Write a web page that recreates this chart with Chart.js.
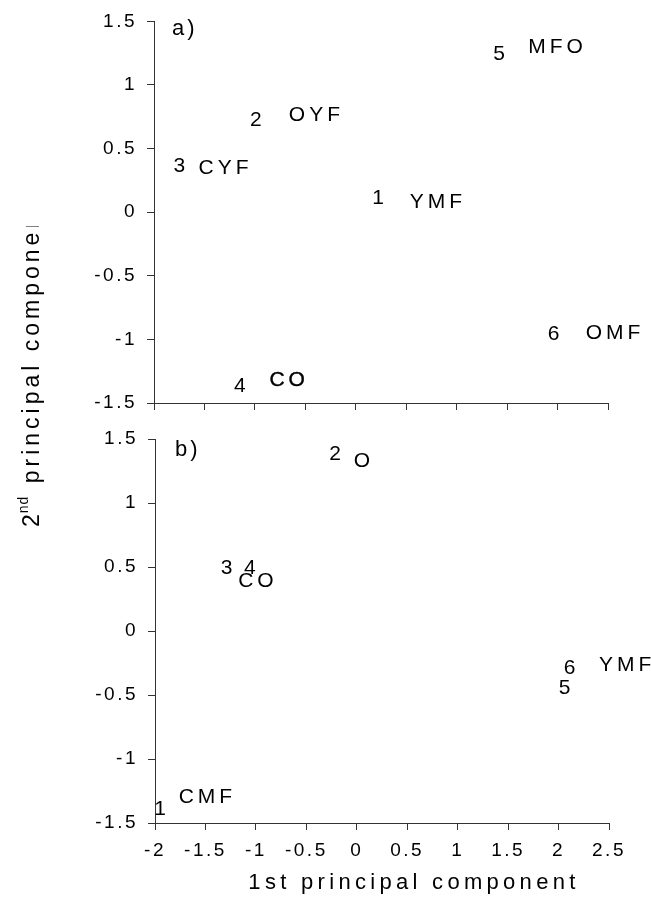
<!DOCTYPE html>
<html>
<head>
<meta charset="utf-8">
<title>Principal component scores</title>
<script src="https://cdn.jsdelivr.net/npm/chart.js@4.4.1/dist/chart.umd.min.js"></script>
<style>
  html, body { margin: 0; padding: 0; background: #fff; }
  #wrap { position: relative; width: 651px; height: 899px; overflow: hidden; }
  #wrap canvas { position: absolute; left: 0; top: 0; }
</style>
</head>
<body>
<div id="wrap">
  <canvas id="panelB" width="651" height="899"></canvas>
  <canvas id="panelA" width="651" height="899"></canvas>
</div>
<script>
const FONT = '"Liberation Sans", Arial, Helvetica, sans-serif';

// shared axes
const xTickValues = [-2, -1.5, -1, -0.5, 0, 0.5, 1, 1.5, 2, 2.5];
const xTickLabels = ['-2', '-1.5', '-1', '-0.5', '0', '0.5', '1', '1.5', '2', '2.5'];
const yTickValues = [-1.5, -1, -0.5, 0, 0.5, 1, 1.5];
const yTickLabels = ['-1.5', '-1', '-0.5', '0', '0.5', '1', '1.5'];

// panel a) sample scores and group names
const sampleIdsA = ['1', '2', '3', '4', '5', '6'];
const scoreAx = [0.22, -0.99, -1.75, -1.15, 1.42, 1.96];
const scoreAy = [0.11, 0.72, 0.36, -1.37, 1.24, -0.96];
const groupsA = ['YMF', 'OYF', 'CYF', 'CO', 'MFO', 'OMF'];
const groupAx = [0.795, -0.41, -1.31, -0.68, 1.98, 2.55];
const groupAy = [0.08, 0.76, 0.345, -1.32, 1.30, -0.955];

// panel b) sample scores and group names
const sampleIdsB = ['1', '2', '3', '4', '5', '6'];
const scoreBx = [-1.95, -0.216, -1.29, -1.06, 2.06, 2.11];
const scoreBy = [-1.39, 1.38, 0.49, 0.49, -0.45, -0.29];
const groupsB = ['CMF', 'O', 'CO', 'YMF'];
const groupBx = [-1.5, 0.05, -1.0, 2.66];
const groupBy = [-1.30, 1.33, 0.39, -0.27];

const toPoints = (xs, ys) => xs.map((x, i) => ({ x: x, y: ys[i] }));

// tick labels get a little tracking, like the rest of the text
const tracking = {
  id: 'tracking',
  beforeLayout(chart) { chart.ctx.letterSpacing = '2.5px'; },
  beforeDraw(chart) { chart.ctx.letterSpacing = '2.5px'; }
};

// writes each dataset's texts at its points
const textMarks = {
  id: 'textMarks',
  afterDatasetsDraw(chart) {
    const ctx = chart.ctx;
    chart.data.datasets.forEach((ds, i) => {
      const meta = chart.getDatasetMeta(i);
      const sp = ds.textSpacing || 0;
      meta.data.forEach((el, j) => {
        ctx.save();
        ctx.font = ds.textFont;
        ctx.letterSpacing = sp + 'px';
        ctx.fillStyle = '#000';
        ctx.textAlign = 'center';
        ctx.textBaseline = 'middle';
        ctx.fillText(ds.texts[j], el.x + sp / 2, el.y);
        if (ds.heavyIndex === j) {
          ctx.strokeStyle = '#000';
          ctx.lineWidth = 0.4;
          ctx.strokeText(ds.texts[j], el.x + sp / 2, el.y);
        }
        ctx.restore();
      });
    });
  }
};

// panel tag "a)" / "b)"
const panelTag = {
  id: 'panelTag',
  afterDraw(chart, args, opts) {
    const ctx = chart.ctx, a = chart.chartArea;
    ctx.save();
    ctx.font = '22px ' + FONT;
    ctx.letterSpacing = '3px';
    ctx.fillStyle = '#000';
    ctx.textAlign = 'left';
    ctx.textBaseline = 'middle';
    ctx.fillText(opts.text, a.left + opts.dx, a.top + opts.dy);
    ctx.restore();
  }
};

// y title runs up the left side; its box cuts it off near the top
const yTitle = {
  id: 'yTitle',
  afterDraw(chart) {
    const ctx = chart.ctx;
    ctx.save();
    ctx.beginPath();
    ctx.rect(0, 226.5, 80, 672);
    ctx.clip();
    ctx.translate(39, 527);
    ctx.rotate(-Math.PI / 2);
    ctx.fillStyle = '#000';
    ctx.textAlign = 'left';
    ctx.textBaseline = 'alphabetic';
    ctx.letterSpacing = '3px';
    ctx.font = '23px ' + FONT;
    ctx.fillText('2', 0, 0);
    let x = ctx.measureText('2').width - 2;
    ctx.font = '14px ' + FONT;
    ctx.letterSpacing = '1px';
    ctx.fillText('nd', x, -11);
    x += ctx.measureText('nd').width + 2;
    ctx.font = '23px ' + FONT;
    ctx.letterSpacing = '4px';
    ctx.fillText(' principal component', x, 0);
    ctx.restore();
  }
};

const xTitle = {
  id: 'xTitle',
  afterDraw(chart) {
    const ctx = chart.ctx;
    ctx.save();
    ctx.font = '22px ' + FONT;
    ctx.letterSpacing = '4.3px';
    ctx.fillStyle = '#000';
    ctx.textAlign = 'center';
    ctx.textBaseline = 'middle';
    ctx.fillText('1st principal component', 414, 883);
    ctx.restore();
  }
};

function axes(showXLabels, xHeight, yWidth) {
  const axisColor = '#333';
  return {
    x: {
      type: 'linear',
      min: -2, max: 2.5,
      afterBuildTicks: s => { s.ticks = xTickValues.map(v => ({ value: v })); },
      afterFit: s => { s.height = xHeight; },
      grid: { drawOnChartArea: false, drawTicks: true, tickLength: 7, color: axisColor, lineWidth: 1 },
      border: { display: true, color: axisColor, width: 1 },
      ticks: {
        display: showXLabels,
        color: '#000',
        padding: 9,
        maxRotation: 0,
        autoSkip: false,
        font: { family: FONT, size: 19 },
        callback: v => xTickLabels[xTickValues.indexOf(v)]
      }
    },
    y: {
      type: 'linear',
      min: -1.5, max: 1.5,
      afterBuildTicks: s => { s.ticks = yTickValues.map(v => ({ value: v })); },
      afterFit: s => { s.width = yWidth; },
      grid: { drawOnChartArea: false, drawTicks: true, tickLength: 7, color: axisColor, lineWidth: 1 },
      border: { display: true, color: axisColor, width: 1 },
      ticks: {
        color: '#000',
        padding: 10,
        font: { family: FONT, size: 19 },
        callback: v => yTickLabels[yTickValues.indexOf(v)]
      }
    }
  };
}

function baseOptions(showXLabels, xHeight, yWidth, padding, tag) {
  return {
    responsive: false,
    devicePixelRatio: 1,
    animation: false,
    events: [],
    layout: { padding: padding },
    plugins: {
      legend: { display: false },
      tooltip: { enabled: false },
      panelTag: tag
    },
    scales: axes(showXLabels, xHeight, yWidth)
  };
}

const labelFont = '21px ' + FONT;

new Chart(document.getElementById('panelB'), {
  type: 'scatter',
  data: {
    datasets: [
      { label: 'samples', data: toPoints(scoreBx, scoreBy), texts: sampleIdsB,
        textFont: labelFont, textSpacing: 0, pointRadius: 0 },
      { label: 'groups', data: toPoints(groupBx, groupBy), texts: groupsB,
        textFont: labelFont, textSpacing: 4, pointRadius: 0 }
    ]
  },
  options: baseOptions(true, 50, 155, { left: 0, top: 439, right: 42, bottom: 899 - 823 - 50 }, { text: 'b)', dx: 20, dy: 11 }),
  plugins: [tracking, textMarks, panelTag, xTitle]
});

new Chart(document.getElementById('panelA'), {
  type: 'scatter',
  data: {
    datasets: [
      { label: 'samples', data: toPoints(scoreAx, scoreAy), texts: sampleIdsA,
        textFont: labelFont, textSpacing: 0, pointRadius: 0 },
      { label: 'groups', data: toPoints(groupAx, groupAy), texts: groupsA,
        textFont: labelFont, textSpacing: 4, pointRadius: 0, heavyIndex: 3 }
    ]
  },
  options: baseOptions(false, 20, 154, { left: 0, top: 19, right: 43, bottom: 899 - 403 - 20 }, { text: 'a)', dx: 18, dy: 8 }),
  plugins: [tracking, textMarks, panelTag, yTitle]
});
</script>
</body>
</html>
